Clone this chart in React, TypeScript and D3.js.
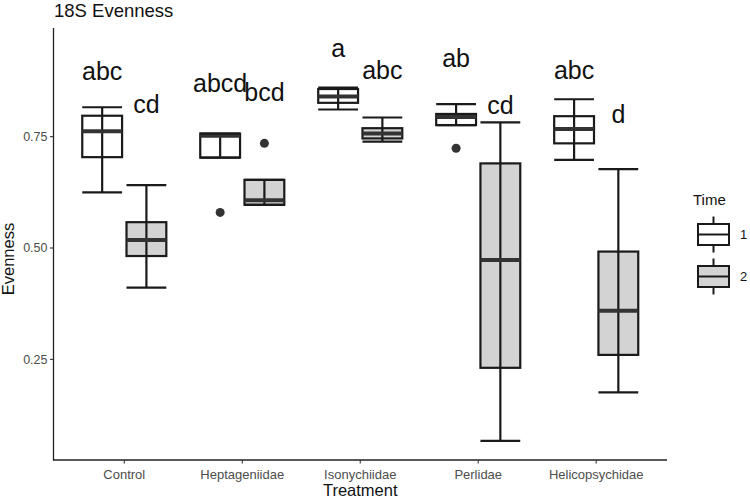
import React from "react";
import * as d3 from "d3";

const categories = ["Control", "Heptageniidae", "Isonychiidae", "Perlidae", "Helicopsychidae"];
const times = ["1", "2"];

const whiskerLow1 = [0.625, 0.703, 0.811, 0.776, 0.698];
const q1Time1 = [0.704, 0.703, 0.826, 0.776, 0.735];
const median1 = [0.762, 0.752, 0.840, 0.794, 0.767];
const q3Time1 = [0.797, 0.757, 0.857, 0.801, 0.796];
const whiskerHigh1 = [0.816, 0.757, 0.860, 0.823, 0.834];
const outliers1: number[][] = [[], [0.58], [], [0.724], []];
const letters1 = ["abc", "abcd", "a", "ab", "abc"];
const letterY1 = [0.877, 0.851, 0.93, 0.906, 0.88];

const whiskerLow2 = [0.411, 0.597, 0.739, 0.067, 0.176];
const q1Time2 = [0.482, 0.597, 0.746, 0.231, 0.26];
const median2 = [0.518, 0.607, 0.757, 0.473, 0.359];
const q3Time2 = [0.558, 0.653, 0.769, 0.69, 0.492];
const whiskerHigh2 = [0.641, 0.653, 0.793, 0.782, 0.677];
const outliers2: number[][] = [[], [0.735], [], [], []];
const letters2 = ["cd", "bcd", "abc", "cd", "d"];
const letterY2 = [0.803, 0.83, 0.879, 0.802, 0.78];

const yTicks = [0.25, 0.5, 0.75];

const seriesData = [
  { time: times[0], low: whiskerLow1, q1: q1Time1, med: median1, q3: q3Time1, high: whiskerHigh1, out: outliers1, letters: letters1, letterY: letterY1, fill: "#ffffff", offset: -0.1875 },
  { time: times[1], low: whiskerLow2, q1: q1Time2, med: median2, q3: q3Time2, high: whiskerHigh2, out: outliers2, letters: letters2, letterY: letterY2, fill: "#d3d3d3", offset: 0.1875 },
];

const FONT = "'Liberation Sans', Arial, Helvetica, sans-serif";
const INK = "#1a1a1a";

export default function App() {
  const W = 750, H = 499;
  const left = 53.5, right = 667, top = 28, bottom = 460;
  const x = d3.scaleLinear().domain([-0.6, categories.length - 1 + 0.6]).range([left, right]);
  const y = d3.scaleLinear().domain([0.024, 0.994]).range([bottom, top]);
  const half = 0.16875;

  return (
    <svg width={W} height={H} style={{ position: "absolute", left: 0, top: 0, background: "#fff" }} fontFamily={FONT}>
      <rect x={0} y={0} width={W} height={H} fill="#fff" />
      <text x={54} y={17} fontSize={18.5} fill="#111">18S Evenness</text>

      {/* boxes */}
      {seriesData.map((s, si) => (
        <g key={si}>
          {categories.map((c, i) => {
            const cx = x(i + s.offset);
            const x0 = x(i + s.offset - half);
            const x1 = x(i + s.offset + half);
            return (
              <g key={c}>
                <line x1={cx} x2={cx} y1={y(s.high[i])} y2={y(s.low[i])} stroke={INK} strokeWidth={2.2} />
                <rect x={x0} y={y(s.q3[i])} width={x1 - x0} height={y(s.q1[i]) - y(s.q3[i])} fill={s.fill} stroke={INK} strokeWidth={2.2} />
                <line x1={cx} x2={cx} y1={y(s.q3[i])} y2={y(s.q1[i])} stroke={INK} strokeWidth={2.2} />
                <line x1={x0} x2={x1} y1={y(s.med[i])} y2={y(s.med[i])} stroke="#333" strokeWidth={4} />
                <line x1={x0} x2={x1} y1={y(s.high[i])} y2={y(s.high[i])} stroke={INK} strokeWidth={2.2} />
                <line x1={x0} x2={x1} y1={y(s.low[i])} y2={y(s.low[i])} stroke={INK} strokeWidth={2.2} />
                {s.out[i].map((o, k) => (
                  <circle key={k} cx={cx} cy={y(o)} r={4.5} fill="#333" />
                ))}
                <text x={cx} y={y(s.letterY[i])} fontSize={25} textAnchor="middle" fill="#111">{s.letters[i]}</text>
              </g>
            );
          })}
        </g>
      ))}

      {/* axes */}
      <line x1={left} x2={left} y1={top} y2={bottom + 0.5} stroke="#222" strokeWidth={1.3} />
      <line x1={left - 0.5} x2={right} y1={bottom} y2={bottom} stroke="#222" strokeWidth={1.3} />
      {yTicks.map((t) => (
        <g key={t}>
          <line x1={left - 3.5} x2={left} y1={y(t)} y2={y(t)} stroke="#333" strokeWidth={1.1} />
          <text x={left - 6} y={y(t)} dy="0.35em" fontSize={12.5} textAnchor="end" fill="#4d4d4d">{d3.format(".2f")(t)}</text>
        </g>
      ))}
      {categories.map((c, i) => (
        <g key={c}>
          <line x1={x(i)} x2={x(i)} y1={bottom} y2={bottom + 3.5} stroke="#333" strokeWidth={1.1} />
          <text x={x(i)} y={479} fontSize={13} textAnchor="middle" fill="#4d4d4d">{c}</text>
        </g>
      ))}
      <text x={x(2)} y={496} fontSize={16.5} textAnchor="middle" fill="#111">Treatment</text>
      <text transform={`translate(14,${(top + bottom) / 2 + 15}) rotate(-90)`} fontSize={16.5} textAnchor="middle" fill="#111">Evenness</text>

      {/* legend */}
      <text x={693} y={205} fontSize={15} fill="#111">Time</text>
      {seriesData.map((s, si) => {
        const ky = 224 + si * 42;
        const kx0 = 698, kx1 = 729, kcx = 713.5;
        return (
          <g key={si}>
            <line x1={kcx} x2={kcx} y1={ky - 7.5} y2={ky + 28.5} stroke={INK} strokeWidth={2} />
            <rect x={kx0} y={ky} width={kx1 - kx0} height={21} fill={s.fill} stroke={INK} strokeWidth={2} />
            <line x1={kx0} x2={kx1} y1={ky + 10.5} y2={ky + 10.5} stroke={INK} strokeWidth={2} />
            <text x={740} y={ky + 10.5} dy="0.35em" fontSize={13} fill="#111">{s.time}</text>
          </g>
        );
      })}
    </svg>
  );
}
